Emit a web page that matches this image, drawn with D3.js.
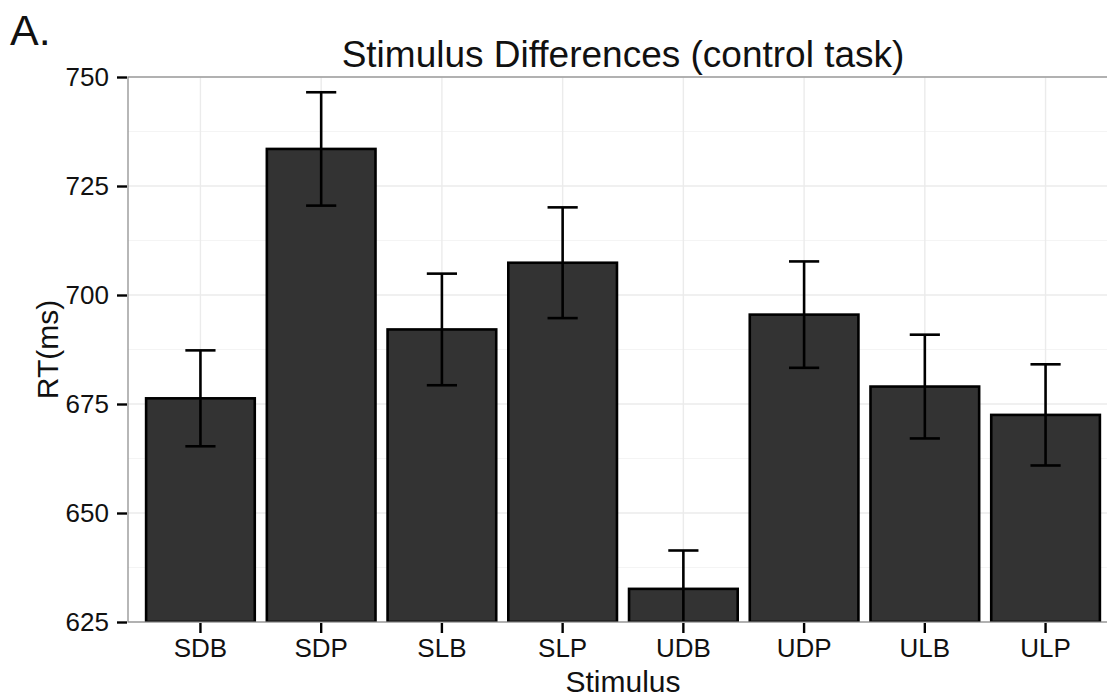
<!DOCTYPE html>
<html>
<head>
<meta charset="utf-8">
<script src="https://cdn.jsdelivr.net/npm/d3@7"></script>
<style>
  html, body { margin: 0; padding: 0; background: #fff; }
  svg { display: block; font-family: "Liberation Sans", Arial, Helvetica, sans-serif; }
</style>
</head>
<body>
<svg id="chart" width="1107" height="698"></svg>
<script>
// Mean reaction time per stimulus condition, with standard errors
const stimuli = ["SDB", "SDP", "SLB", "SLP", "UDB", "UDP", "ULB", "ULP"];
const meanRT = [676.3, 733.5, 692.1, 707.4, 632.6, 695.5, 679.0, 672.5];
const seRT = [11.0, 13.0, 12.8, 12.7, 8.8, 12.2, 11.9, 11.6];
const yTicks = [625, 650, 675, 700, 725, 750];
const yMinor = [637.5, 662.5, 687.5, 712.5, 737.5];

const svg = d3.select("#chart");
const panel = { left: 128, top: 77, right: 1118, bottom: 622 };

// Discrete x scale: 0.6 step of space before the first and after the last category
const x = d3.scaleBand()
  .domain(stimuli)
  .range([panel.left, panel.right])
  .paddingInner(0.1)
  .paddingOuter(0.15);
const step = x.step();
const cx = d => x(d) + x.bandwidth() / 2;

const y = d3.scaleLinear().domain([625, 750]).range([panel.bottom, panel.top]);

const defs = svg.append("defs");
defs.append("clipPath").attr("id", "panelClip")
  .append("rect")
  .attr("x", panel.left).attr("y", panel.top)
  .attr("width", panel.right - panel.left).attr("height", panel.bottom - panel.top);

// Grid lines
const grid = svg.append("g");
grid.selectAll("line.minor").data(yMinor).join("line")
  .attr("x1", panel.left).attr("x2", panel.right)
  .attr("y1", d => y(d)).attr("y2", d => y(d))
  .attr("stroke", "#f4f4f4").attr("stroke-width", 1.2);
grid.selectAll("line.major").data(yTicks).join("line")
  .attr("x1", panel.left).attr("x2", panel.right)
  .attr("y1", d => y(d)).attr("y2", d => y(d))
  .attr("stroke", "#ebebeb").attr("stroke-width", 1.4);
grid.selectAll("line.vmajor").data(stimuli).join("line")
  .attr("x1", d => cx(d)).attr("x2", d => cx(d))
  .attr("y1", panel.top).attr("y2", panel.bottom)
  .attr("stroke", "#ebebeb").attr("stroke-width", 1.4);

// Bars and error bars
const marks = svg.append("g").attr("clip-path", "url(#panelClip)");
const bw = x.bandwidth();
marks.selectAll("rect.bar").data(stimuli).join("rect")
  .attr("x", d => x(d))
  .attr("width", bw)
  .attr("y", (d, i) => y(meanRT[i]))
  .attr("height", (d, i) => y(625) - y(meanRT[i]))
  .attr("fill", "#333333")
  .attr("stroke", "#000")
  .attr("stroke-width", 2.6);

const capW = step * 0.25;
const eb = marks.selectAll("g.err").data(stimuli).join("g");
eb.append("line")
  .attr("x1", d => cx(d)).attr("x2", d => cx(d))
  .attr("y1", (d, i) => y(meanRT[i] + seRT[i]))
  .attr("y2", (d, i) => y(meanRT[i] - seRT[i]))
  .attr("stroke", "#000").attr("stroke-width", 2.6);
eb.append("line")
  .attr("x1", d => cx(d) - capW / 2).attr("x2", d => cx(d) + capW / 2)
  .attr("y1", (d, i) => y(meanRT[i] + seRT[i]))
  .attr("y2", (d, i) => y(meanRT[i] + seRT[i]))
  .attr("stroke", "#000").attr("stroke-width", 2.6);
eb.append("line")
  .attr("x1", d => cx(d) - capW / 2).attr("x2", d => cx(d) + capW / 2)
  .attr("y1", (d, i) => y(meanRT[i] - seRT[i]))
  .attr("y2", (d, i) => y(meanRT[i] - seRT[i]))
  .attr("stroke", "#000").attr("stroke-width", 2.6);

// Panel border
svg.append("rect")
  .attr("x", panel.left).attr("y", panel.top)
  .attr("width", panel.right - panel.left).attr("height", panel.bottom - panel.top)
  .attr("fill", "none").attr("stroke", "#888").attr("stroke-width", 1.2);

// Y axis
const yAxis = d3.axisLeft(y).tickValues(yTicks).tickSize(10).tickPadding(8).tickFormat(d3.format("d"));
const gy = svg.append("g").attr("transform", `translate(${panel.left - 1},0)`).call(yAxis);
gy.select(".domain").remove();
gy.selectAll(".tick line").attr("stroke", "#000").attr("stroke-width", 2.4);
gy.selectAll(".tick text").attr("font-size", 26).attr("fill", "#111")
  .attr("font-family", "'Liberation Sans', Arial, sans-serif");

// X axis
const xAxis = d3.axisBottom(x).tickSize(10).tickPadding(6);
const gx = svg.append("g").attr("transform", `translate(0,${panel.bottom + 1})`).call(xAxis);
gx.select(".domain").remove();
gx.selectAll(".tick line").attr("stroke", "#000").attr("stroke-width", 2.4);
gx.selectAll(".tick text").attr("font-size", 26).attr("fill", "#111")
  .attr("font-family", "'Liberation Sans', Arial, sans-serif");

// Titles and labels
const midX = (panel.left + panel.right) / 2;
svg.append("text").attr("x", midX).attr("y", 67).attr("text-anchor", "middle")
  .attr("font-size", 37).attr("fill", "#111").text("Stimulus Differences (control task)");
svg.append("text").attr("x", midX).attr("y", 692).attr("text-anchor", "middle")
  .attr("font-size", 30).attr("fill", "#111").text("Stimulus");
svg.append("text")
  .attr("transform", `translate(58,${(panel.top + panel.bottom) / 2}) rotate(-90)`)
  .attr("text-anchor", "middle")
  .attr("font-size", 30).attr("fill", "#111").text("RT(ms)");
svg.append("text").attr("x", 10).attr("y", 45)
  .attr("font-size", 43).attr("fill", "#111").text("A.");
</script>
</body>
</html>
